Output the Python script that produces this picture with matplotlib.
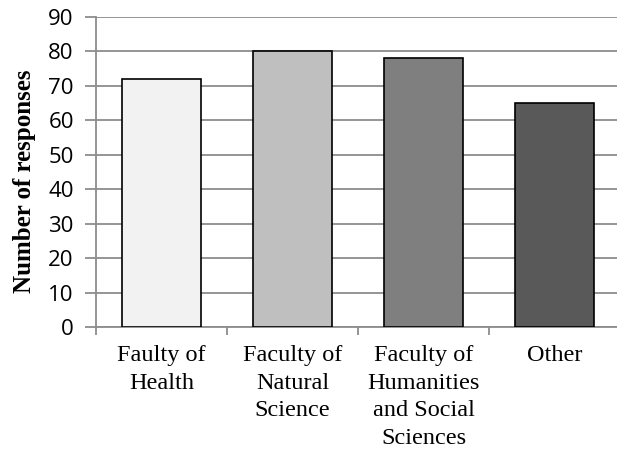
import matplotlib.pyplot as plt
import numpy as np

categories = ["Faulty of\nHealth", "Faculty of\nNatural\nScience",
              "Faculty of\nHumanities\nand Social\nSciences", "Other"]
responses = [72, 80, 78, 65]
bar_colors = ["#F2F2F2", "#BFBFBF", "#7F7F7F", "#595959"]

fig = plt.figure(figsize=(6.17, 4.51), dpi=100)
ax = fig.add_axes([96 / 617, 124 / 451, 524 / 617, 310 / 451])

x = np.arange(len(categories))
ax.bar(x, responses, width=0.6, color=bar_colors, edgecolor="black",
       linewidth=1.2, zorder=3)

ax.set_xlim(-0.5, len(categories) - 0.5)
ax.set_ylim(0, 90)
ax.set_yticks(range(0, 91, 10))
ax.yaxis.grid(True, color="#8c8c8c", linewidth=1.3, zorder=0)
ax.set_axisbelow(True)

for s in ["top", "right"]:
    ax.spines[s].set_visible(False)
for s in ["left", "bottom"]:
    ax.spines[s].set_color("#8c8c8c")
    ax.spines[s].set_linewidth(1.3)

ax.set_xticks(x)
ax.set_xticklabels(categories, family="Liberation Serif", fontsize=17.5,
                   linespacing=1.42)
ax.set_xticks(np.arange(-0.5, len(categories), 1), minor=True)
ax.tick_params(axis="x", which="major", length=0, pad=13)
ax.tick_params(axis="x", which="minor", length=6, color="#8c8c8c", width=1.3)
ax.tick_params(axis="y", length=8, color="#8c8c8c", width=1.3, pad=8,
               labelsize=16)
for t in ax.get_yticklabels():
    t.set_family("Open Sans")

ax.set_ylabel("Number of responses", family="Liberation Serif",
              fontweight="bold", fontsize=18)
ax.yaxis.set_label_coords(-60 / 524, 0.47)

fig.savefig("out.png", dpi=100)
